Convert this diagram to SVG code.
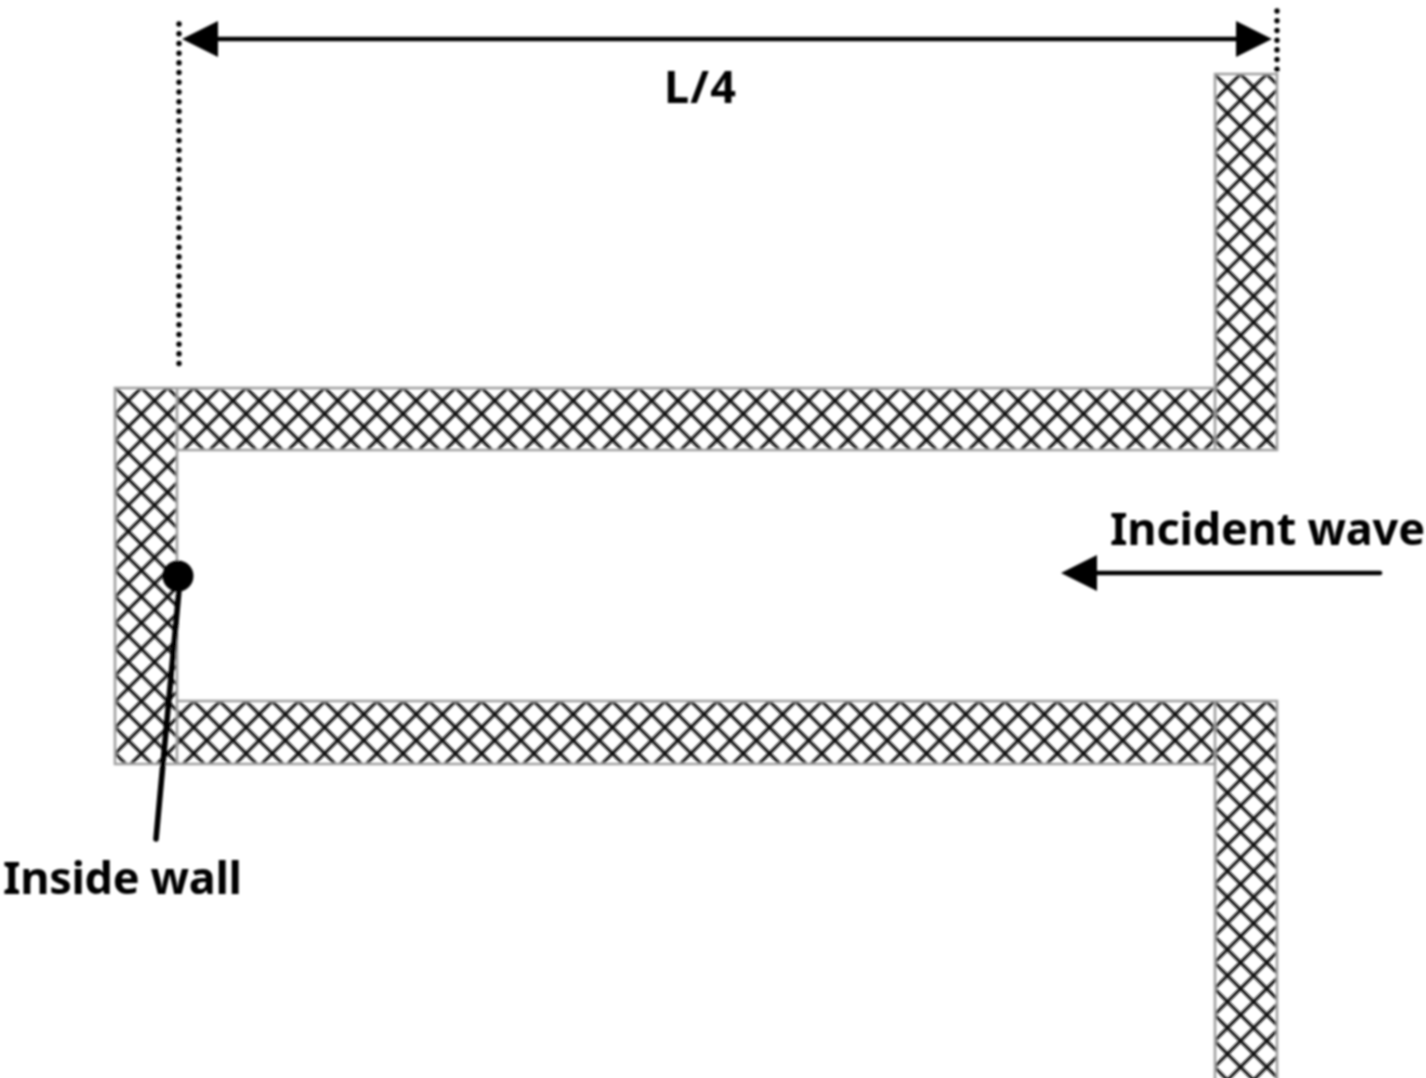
<svg xmlns="http://www.w3.org/2000/svg" width="1426" height="1078" viewBox="0 0 1426 1078">
<style>
.wall{fill:url(#hatch);stroke:#a0a0a0;stroke-width:2.6}
.seam{fill:none;stroke:#a0a0a0;stroke-width:2.6}
.lbl{font-family:"Noto Sans","Noto Sans CJK KR",sans-serif;font-weight:700;fill:#000;font-size:45px}
.dim{stroke:#000;stroke-width:4.6;fill:none;stroke-linecap:round}
.dot{stroke:#000;stroke-width:5.4;stroke-linecap:round;stroke-dasharray:0.1 9.6;fill:none}
</style>
<defs>
<pattern id="hatch" patternUnits="userSpaceOnUse" x="128.3" y="400.7" width="26.17" height="26.13">
<path d="M-2 -2L28.17 28.13M28.17 -2L-2 28.13" stroke="#111" stroke-width="3.1" fill="none"/>
</pattern>
<marker id="ah" markerUnits="userSpaceOnUse" markerWidth="40" markerHeight="40" refX="26" refY="18" orient="auto-start-reverse" viewBox="0 0 40 40">
<path d="M0 0L36 18L0 36Z" fill="#000"/>
</marker>
<filter id="soft" filterUnits="userSpaceOnUse" x="0" y="0" width="1426" height="1078"><feGaussianBlur stdDeviation="0.8"/></filter>
</defs>
<rect width="1426" height="1078" fill="#fff"/>
<g filter="url(#soft)">
<g id="wall">
<path class="wall" d="M1215 74H1277V450H177V701H1277V1090H1215V764H115V388H1215Z"/>
<path class="seam" d="M177 388V450M177 701V764M1215 388V450M1215 701V764"/>
</g>
<g id="connectors">
<path class="dot" d="M179 24V366"/>
<path class="dot" d="M1277 11V72"/>
<path class="dim" d="M192 39H1262" marker-start="url(#ah)" marker-end="url(#ah)"/>
<path class="dim" d="M1380 573H1071" marker-end="url(#ah)"/>
<path d="M179 590L156 839" stroke="#000" stroke-width="5.6" fill="none" stroke-linecap="round"/>
</g>
<g id="inside-point"><circle cx="178" cy="576" r="15.5" fill="#000"/></g>
<g id="labels">
<text class="lbl" x="664" y="103" textLength="72">L/4</text>
<text class="lbl" x="1110" y="545" textLength="315">Incident wave</text>
<text class="lbl" x="3" y="894" textLength="239">Inside wall</text>
</g>
</g>
</svg>
